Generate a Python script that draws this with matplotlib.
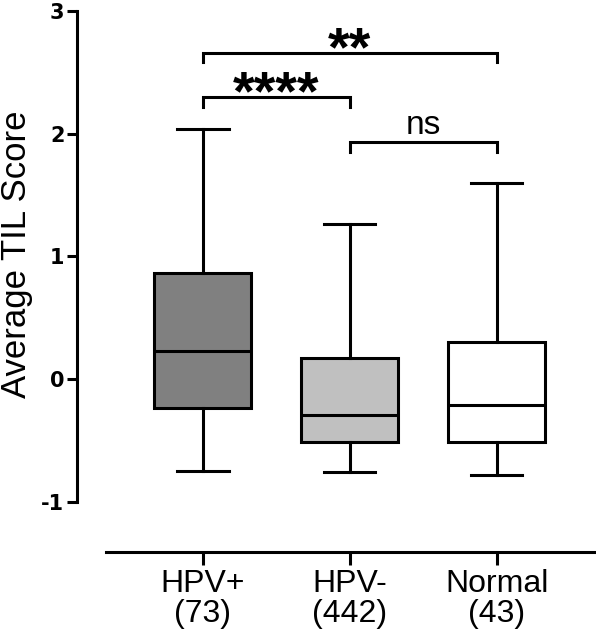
import matplotlib
matplotlib.use("Agg")
import matplotlib.pyplot as plt

plt.rcParams['font.family'] = ['Liberation Sans', 'DejaVu Sans']

categories = ["HPV+\n(73)", "HPV-\n(442)", "Normal\n(43)"]
whisker_low = [-0.75, -0.76, -0.78]
q1 = [-0.24, -0.51, -0.51]
median = [0.23, -0.29, -0.21]
q3 = [0.865, 0.17, 0.30]
whisker_high = [2.04, 1.26, 1.60]
fills = ["#808080", "#c0c0c0", "#ffffff"]

# significance brackets: (left group, right group, height, label)
brackets = [(0, 2, 2.66, "**"), (0, 1, 2.30, "****"), (1, 2, 1.93, "ns")]

fig = plt.figure(figsize=(5.96, 6.4), dpi=100)
ax = fig.add_axes([77/596, (640-557)/640, (595-77)/596, (557-8.4)/640])

positions = [1, 2, 3]
stats = []
for i in range(3):
    stats.append(dict(med=median[i], q1=q1[i], q3=q3[i],
                      whislo=whisker_low[i], whishi=whisker_high[i], fliers=[]))

lw = 2.2
bp = ax.bxp(stats, positions=positions, widths=0.66, patch_artist=True,
            showfliers=False,
            boxprops=dict(linewidth=lw, edgecolor='black'),
            medianprops=dict(linewidth=lw, color='black'),
            whiskerprops=dict(linewidth=lw, color='black'),
            capprops=dict(linewidth=lw, color='black'),
            capwidths=0.35)
for patch, c in zip(bp['boxes'], fills):
    patch.set_facecolor(c)

ax.set_xlim(0.143, 3.67)
ax.set_ylim(-1.45, 3.02)

for s in ['top', 'right']:
    ax.spines[s].set_visible(False)
ax.spines['left'].set_bounds(-1, 3)
ax.spines['left'].set_linewidth(lw)
ax.spines['bottom'].set_position(('data', -1.41))
ax.spines['bottom'].set_bounds(0.34, 3.67)
ax.spines['bottom'].set_linewidth(lw)

ax.set_yticks([-1, 0, 1, 2, 3])
ax.set_yticklabels(["-1", "0", "1", "2", "3"], fontsize=15, fontweight='bold',
                   family=['DejaVu Sans'])
ax.tick_params(axis='y', length=7, width=lw, pad=2)
ax.set_xticks(positions)
ax.set_xticklabels(categories, fontsize=23, linespacing=1.0)
ax.tick_params(axis='x', length=9, width=lw, pad=3)

ax.set_ylabel("Average TIL Score", fontsize=25)
ax.yaxis.set_label_coords(-0.084, 0.552)

drop = 0.08
for a, b, h, lab in brackets:
    xa, xb = positions[a], positions[b]
    ax.plot([xa, xa, xb, xb], [h - drop, h, h, h - drop], color='black',
            linewidth=lw, solid_joinstyle='miter', clip_on=False)
    if lab == "ns":
        ax.text((xa + xb) / 2, h + 0.01, lab, ha='center', va='bottom', fontsize=24)
    else:
        ax.text((xa + xb) / 2, h - 0.2, lab, ha='center', va='bottom',
                fontsize=40, fontweight='bold')

fig.savefig("out.png", dpi=100)
